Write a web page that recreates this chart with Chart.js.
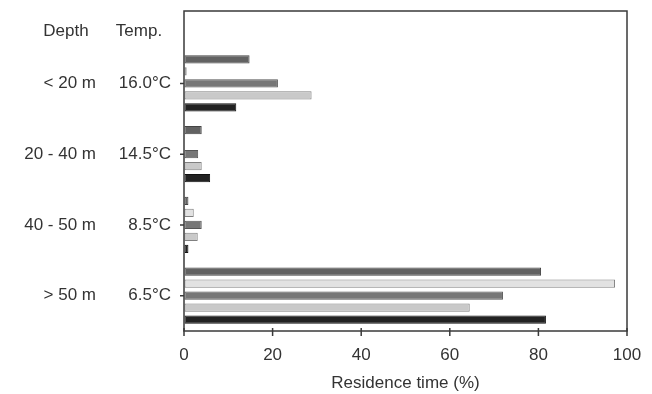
<!DOCTYPE html>
<html>
<head>
<meta charset="utf-8">
<script src="https://cdn.jsdelivr.net/npm/chart.js@4"></script>
<style>
  body { margin: 0; background: #fff; }
  #wrap { width: 652px; height: 394px; }
</style>
</head>
<body>
<div id="wrap"><canvas id="myChart" width="652" height="394"></canvas></div>
<script>
const depths = ["< 20 m", "20 - 40 m", "40 - 50 m", "> 50 m"];
const temps = ["16.0°C", "14.5°C", "8.5°C", "6.5°C"];
const serie1 = [14.8, 4.0, 1.0, 80.6];
const serie2 = [0.6, 0, 2.2, 97.3];
const serie3 = [21.2, 3.2, 4.0, 72.0];
const serie4 = [28.8, 4.0, 3.1, 64.5];
const serie5 = [11.8, 5.9, 1.0, 81.7];
const xTicks = [0, 20, 40, 60, 80, 100];

const fuente = "'Liberation Sans', Arial, sans-serif";
const ctx = document.getElementById("myChart");

// marco, marcas de los ejes y encabezados de columnas
const marco = {
  id: "marco",
  afterDraw(chart) {
    const c = chart.ctx;
    const a = chart.chartArea;
    const sx = chart.scales.x;
    const sy = chart.scales.y;
    c.save();
    c.strokeStyle = "#3a3a3a";
    c.lineWidth = 1.5;
    c.strokeRect(a.left, 11, a.right - a.left, a.bottom - 11);
    c.beginPath();
    sx.ticks.forEach((t, i) => {
      const px = sx.getPixelForTick(i);
      c.moveTo(px, a.bottom - 3);
      c.lineTo(px, a.bottom + 5);
    });
    sy.ticks.forEach((t, i) => {
      const py = sy.getPixelForTick(i);
      c.moveTo(a.left - 4, py);
      c.lineTo(a.left, py);
    });
    c.stroke();
    c.fillStyle = "#333";
    c.font = "17px " + fuente;
    c.textBaseline = "alphabetic";
    c.textAlign = "center";
    c.fillText("Depth", 66, 36);
    c.fillText("Temp.", 139, 36);
    c.restore();
  }
};

function barra(data, fondo, borde) {
  return {
    data: data,
    backgroundColor: fondo,
    borderColor: borde,
    borderWidth: 1,
    borderSkipped: false,
    categoryPercentage: 0.85,
    barPercentage: 0.68
  };
}

new Chart(ctx, {
  type: "bar",
  plugins: [marco],
  data: {
    labels: temps,
    datasets: [
      barra(serie1, "#626262", "#444444"),
      barra(serie2, "#e2e2e2", "#808080"),
      barra(serie3, "#777777", "#555555"),
      barra(serie4, "#c9c9c9", "#808080"),
      barra(serie5, "#222222", "#111111")
    ]
  },
  options: {
    indexAxis: "y",
    responsive: false,
    devicePixelRatio: 1,
    animation: false,
    layout: { padding: { top: 48, right: 25, left: 0, bottom: 0 } },
    plugins: { legend: { display: false }, tooltip: { enabled: false } },
    scales: {
      x: {
        min: 0,
        max: 100,
        afterBuildTicks: (s) => { s.ticks = xTicks.map((v) => ({ value: v })); },
        afterFit: (s) => { s.height = 63; },
        border: { display: false },
        grid: { display: true, drawOnChartArea: false, drawTicks: true, tickLength: 5, color: "rgba(0,0,0,0)" },
        ticks: { color: "#333", padding: 9, font: { family: fuente, size: 17 } },
        title: {
          display: true,
          text: "Residence time (%)",
          color: "#333",
          padding: { top: 0, bottom: 0 },
          font: { family: fuente, size: 17 }
        }
      },
      y: {
        type: "category",
        offset: true,
        weight: 0,
        afterFit: (s) => { s.width = 74; },
        border: { display: false },
        grid: { offset: false, drawOnChartArea: false, drawTicks: true, tickLength: 4, color: "rgba(0,0,0,0)" },
        ticks: { color: "#333", padding: 9, font: { family: fuente, size: 17 } }
      },
      y2: {
        type: "category",
        position: "left",
        labels: depths,
        offset: true,
        weight: 1,
        afterFit: (s) => { s.width = 110; },
        border: { display: false },
        grid: { display: false, drawTicks: false },
        ticks: { color: "#333", padding: 14, font: { family: fuente, size: 17 } }
      }
    }
  }
});
</script>
</body>
</html>
